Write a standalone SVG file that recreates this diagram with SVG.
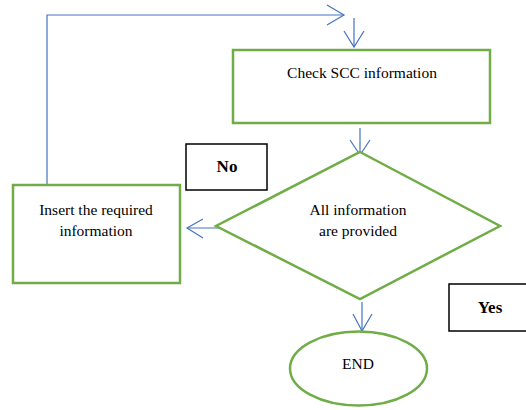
<svg xmlns="http://www.w3.org/2000/svg" width="526" height="410" viewBox="0 0 526 410">
<style>
.node{fill:#fff;stroke:#70AD47;stroke-width:2.5}
.lbl{fill:#fff;stroke:#000;stroke-width:1.5}
.conn{fill:none;stroke:#4472C4;stroke-width:1.2}
.t{font-size:15.5px;fill:#000;text-anchor:middle}
.b{font-weight:bold;font-size:17px}
</style>
<rect width="526" height="410" fill="#fff"/>
<g id="connectors">
<polyline class="conn" points="47,185 47,15 344,15"/>
<polyline class="conn" points="327,5 344,15 327,25"/>
<line class="conn" x1="354" y1="18" x2="354" y2="47"/>
<polyline class="conn" points="344,31 354,47 364,31"/>
<line class="conn" x1="360" y1="128" x2="360" y2="155"/>
<polyline class="conn" points="350,140 360,155 370,140"/>
<line class="conn" x1="222" y1="228" x2="187" y2="228"/>
<polyline class="conn" points="203,219 187,228 203,238"/>
<line class="conn" x1="362" y1="302" x2="362" y2="331"/>
<polyline class="conn" points="353,314 362,331 372,314"/>
</g>
<g font-family="Liberation Serif, Times New Roman, serif">
<g id="check">
<rect class="node" x="233" y="50" width="257" height="73"/>
<text class="t" x="362" y="78">Check SCC information</text>
</g>
<g id="decision">
<polygon class="node" points="360,152 500,226 360,299 216,226"/>
<text class="t" x="358" y="215">All information</text>
<text class="t" x="358" y="236">are provided</text>
</g>
<g id="insert">
<rect class="node" x="13" y="185" width="167" height="98"/>
<text class="t" x="96" y="215">Insert the required</text>
<text class="t" x="96" y="236">information</text>
</g>
<g id="end">
<ellipse class="node" cx="358.5" cy="368.5" rx="68.5" ry="37"/>
<text class="t" x="358" y="369">END</text>
</g>
<g id="no">
<rect class="lbl" x="186" y="144" width="81" height="46"/>
<text class="t b" x="227" y="172">No</text>
</g>
<g id="yes">
<rect class="lbl" x="449" y="284" width="82" height="47"/>
<text class="t b" x="490" y="313">Yes</text>
</g>
</g>
</svg>
